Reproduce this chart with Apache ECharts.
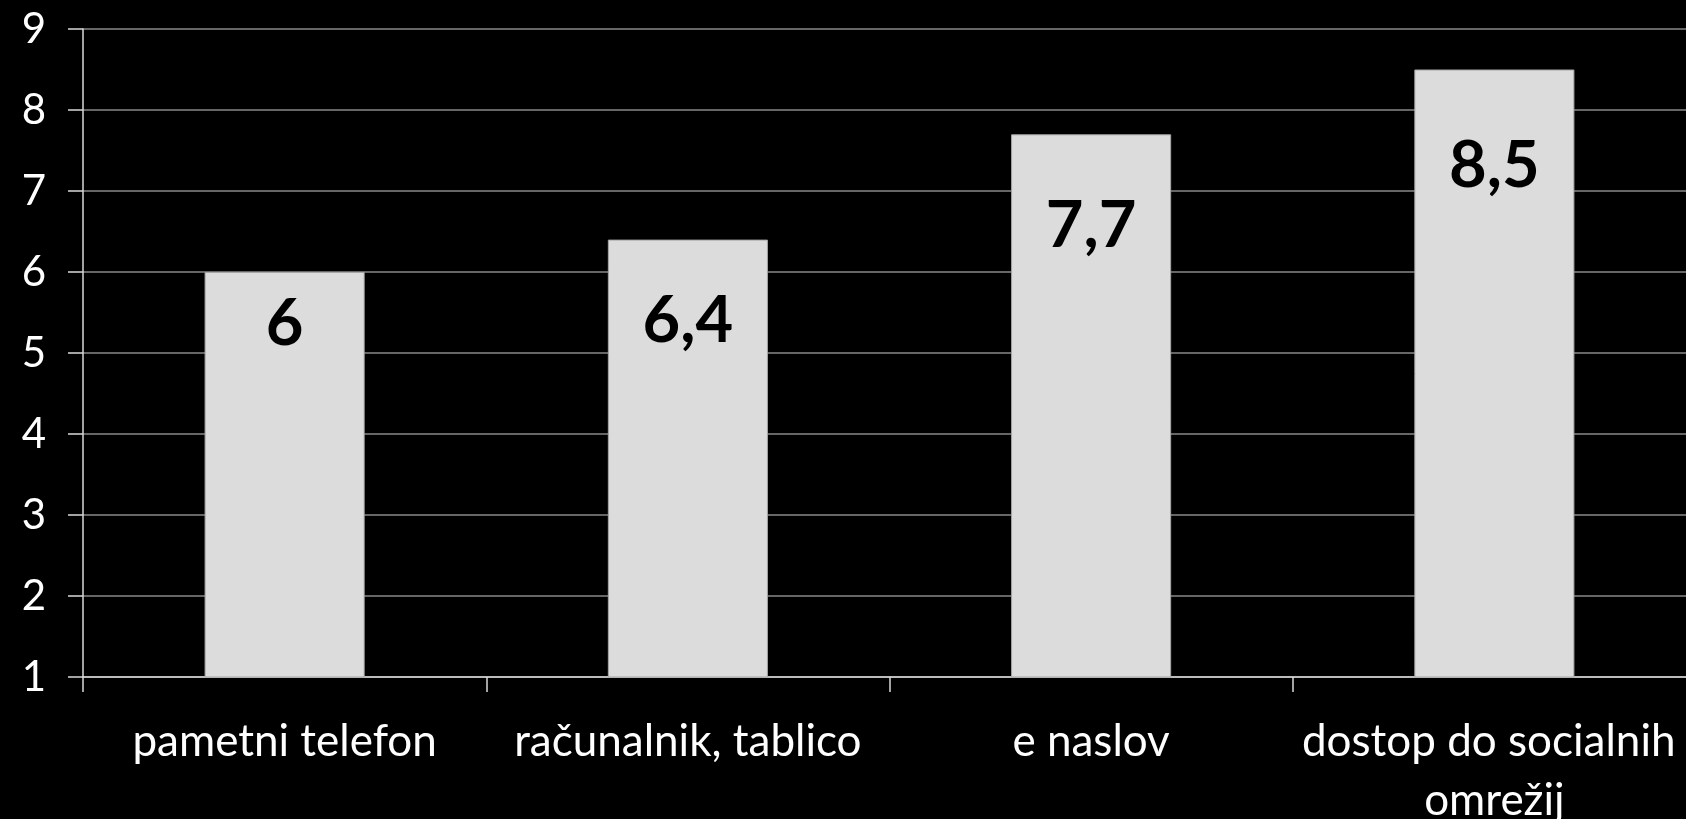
<!DOCTYPE html>
<html>
<head>
<meta charset="utf-8">
<script src="https://cdn.jsdelivr.net/npm/echarts@6/dist/echarts.min.js"></script>
<style>
html,body{margin:0;padding:0;background:#000;}
#chart{width:1686px;height:819px;}
</style>
</head>
<body>
<div id="chart"></div>
<script>
const categories = ['pametni telefon', 'računalnik, tablico', 'e naslov', 'dostop do socialnih omrežij'];
const values = [6, 6.4, 7.7, 8.5];
const yTicks = [1, 2, 3, 4, 5, 6, 7, 8, 9];

// label placement inside bars (style only)
const labelDistances = [20, 49, 59, 64];

const chart = echarts.init(document.getElementById('chart'));
chart.setOption({
  backgroundColor: '#000',
  animation: false,
  textStyle: { fontFamily: 'Lato' },
  grid: { left: 83, right: -10, top: 29, bottom: 142, containLabel: false, outerBoundsMode: 'none' },
  xAxis: {
    type: 'category',
    data: categories,
    boundaryGap: true,
    axisLine: { show: true, lineStyle: { color: '#d9d9d9', width: 1.5 } },
    axisTick: { show: true, length: 15, lineStyle: { color: '#d9d9d9', width: 1.5 } },
    axisLabel: {
      color: '#fff', fontSize: 44, fontFamily: 'Lato', margin: 35,
      lineHeight: 59, width: 400, overflow: 'break', interval: 0
    },
    splitLine: { show: false }
  },
  yAxis: {
    type: 'value',
    min: yTicks[0], max: yTicks[yTicks.length - 1], interval: 1,
    axisLine: { show: true, lineStyle: { color: '#d9d9d9', width: 1.5 } },
    axisTick: { show: true, length: 15, lineStyle: { color: '#d9d9d9', width: 1.5 } },
    axisLabel: { color: '#fff', fontSize: 42, fontFamily: 'Lato', margin: 37 },
    splitLine: { show: true, lineStyle: { color: '#888', width: 1.5 } }
  },
  series: [{
    type: 'bar',
    data: values.map((v, i) => ({
      value: v,
      label: { distance: labelDistances[i] }
    })),
    barWidth: '39.7%',
    itemStyle: { color: '#dcdcdc', borderColor: '#a6a6a6', borderWidth: 1 },
    label: {
      show: true,
      position: 'insideTop',
      color: '#000',
      fontFamily: 'Lato',
      fontWeight: 'bold',
      fontSize: 65,
      lineHeight: 65,
      formatter: p => String(p.value).replace('.', ',')
    }
  }]
});
</script>
</body>
</html>
